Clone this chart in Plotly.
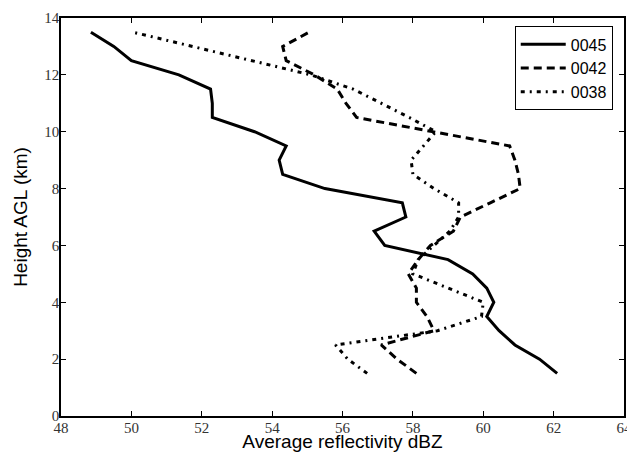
import plotly.graph_objects as go

heights = [1.5, 2.0, 2.5, 3.0, 3.5, 4.0, 4.5, 5.0, 5.5, 6.0, 6.5, 7.0, 7.5,
           8.0, 8.5, 9.0, 9.5, 10.0, 10.5, 11.0, 11.5, 12.0, 12.5, 13.0, 13.5]

refl_0045 = [62.1, 61.6, 60.9, 60.45, 60.1, 60.3, 60.1, 59.7, 59.0, 57.2, 56.9, 57.8, 57.7,
             55.5, 54.3, 54.2, 54.4, 53.5, 52.3, 52.3, 52.25, 51.35, 50.0, 49.5, 48.85]
refl_0042 = [58.1, 57.55, 57.1, 58.6, 58.4, 58.1, 58.1, 57.87, 58.15, 58.5, 59.15, 59.35, 60.2,
             61.05, 61.0, 60.9, 60.75, 58.6, 56.4, 56.1, 55.85, 55.2, 54.4, 54.3, 55.05]
refl_0038 = [56.7, 56.15, 55.8, 58.7, 59.95, 60.0, 59.0, 58.0, 58.15, 58.6, 59.05, 59.3, 59.3,
             58.6, 58.0, 57.95, 58.3, 58.65, 57.9, 57.1, 56.3, 55.1, 53.4, 51.7, 50.05]

series_names = ["0045", "0042", "0038"]
x_ticks = [48, 50, 52, 54, 56, 58, 60, 62, 64]
y_ticks = [0, 2, 4, 6, 8, 10, 12, 14]

dashes = ["solid", "8px,5px", "4px,5px,2px,5px"]
widths = [3, 3, 3]

fig = go.Figure()
for name, vals, dash, w in zip(series_names, [refl_0045, refl_0042, refl_0038], dashes, widths):
    fig.add_trace(go.Scatter(
        x=vals, y=heights, mode="lines", name=name,
        line=dict(color="black", width=w, dash=dash),
    ))

axis_common = dict(
    showgrid=False, zeroline=False, showline=True, linecolor="black", linewidth=1.5,
    mirror="allticks", ticks="inside", ticklen=5, tickwidth=1, tickcolor="black",
    tickfont=dict(family="Liberation Serif", size=15, color="#333"),
    ticklabelstandoff=-3, ticklabeloverflow="allow",
    automargin=False,
)

# the page body has an 8px default margin, so the figure is sized/offset for it
fig.update_layout(
    width=627, height=444,
    margin=dict(l=53, r=11, t=10, b=36),
    paper_bgcolor="white", plot_bgcolor="white",
    xaxis=dict(range=[48, 64], tickvals=x_ticks, ticktext=[str(v) for v in x_ticks],
               title=dict(text="Average reflectivity dBZ",
                          font=dict(family="Liberation Sans", size=19, color="black")),
               **axis_common),
    yaxis=dict(range=[0, 14], tickvals=y_ticks, ticktext=[str(v) for v in y_ticks],
               title=dict(text="Height AGL (km)", standoff=12,
                          font=dict(family="Liberation Sans", size=19, color="black")),
               **axis_common),
    legend=dict(x=0.98, y=0.979, xanchor="right", yanchor="top",
                bgcolor="white", bordercolor="black", borderwidth=1,
                itemwidth=45,
                font=dict(family="Liberation Sans", size=16, color="black")),
    showlegend=True,
)

fig.write_html("out.html")
